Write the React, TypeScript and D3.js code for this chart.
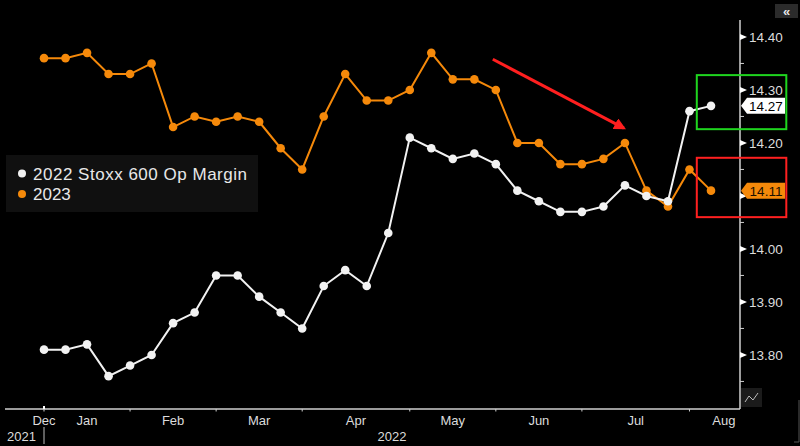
import { useEffect } from "react";
import * as d3 from "d3";

// Weekly readings, Dec 2021 → Aug 2022
const margin2022 = [
  13.81, 13.81, 13.82, 13.76, 13.78, 13.8, 13.86, 13.88, 13.95, 13.95, 13.91, 13.88, 13.85, 13.93, 13.96, 13.93,
  14.03, 14.21, 14.19, 14.17, 14.18, 14.16, 14.11, 14.09, 14.07, 14.07, 14.08, 14.12, 14.1, 14.09, 14.26, 14.27,
];
const margin2023 = [
  14.36, 14.36, 14.37, 14.33, 14.33, 14.35, 14.23, 14.25, 14.24, 14.25, 14.24, 14.19, 14.15, 14.25, 14.33, 14.28,
  14.28, 14.3, 14.37, 14.32, 14.32, 14.3, 14.2, 14.2, 14.16, 14.16, 14.17, 14.2, 14.11, 14.08, 14.15, 14.11,
];
const seriesNames = ["2022 Stoxx 600 Op Margin", "2023"];

// index of the week where each month tick sits
const monthTicks = [0, 4, 8, 12, 17, 21, 25, 30, 33.2];
const monthLabels = ["Jan", "Feb", "Mar", "Apr", "May", "Jun", "Jul", "Aug"];
const yTicks = [13.8, 13.9, 14.0, 14.1, 14.2, 14.3, 14.4];

// annotations in data units: [x0, x1, y0, y1]
const greenBox = [30.34, 34.5, 14.328, 14.226];
const redBox = [30.34, 34.5, 14.172, 14.06];
const arrow = [20.86, 14.358, 26.95, 14.228];

const W = 800;
const H = 446;
const WHITE = "#f2f2f2";
const ORANGE = "#f5890a";

export default function App() {
  useEffect(() => {
    document.body.style.margin = "0";
    document.body.style.background = "#000";
  }, []);

  const x = d3.scaleLinear().domain([0, 31]).range([44, 711]);
  const y = d3.scaleLinear().domain([13.698, 14.432]).range([409, 20]);
  const axisX = 740;
  const axisY = 409;
  const left = 5;

  const line = d3
    .line<number>()
    .x((_, i) => x(i))
    .y((d) => y(d));

  const minorTicks = d3.range(13.75, 14.43, 0.1);
  const last22 = margin2022[margin2022.length - 1];
  const last23 = margin2023[margin2023.length - 1];
  // a tick label sitting under a last-value flag is hidden, as on the terminal
  const hidden = (t: number) => [last22, last23].some((v) => Math.abs(y(v) - y(t)) < 9);

  const narrow = "'Liberation Sans Narrow', 'Arial Narrow', sans-serif";
  const sans = "'Liberation Sans', Arial, sans-serif";

  const flag = (v: number) => {
    const c = y(v);
    return `M${axisX + 1},${c} L${axisX + 7},${c - 8} L${axisX + 45},${c - 8} L${axisX + 45},${c + 8} L${axisX + 7},${c + 8} Z`;
  };

  return (
    <svg width={W} height={H} style={{ position: "absolute", left: 0, top: 0, background: "#000", display: "block" }}>
      <rect width={W} height={H} fill="#000" />
      <defs>
        <marker id="ah" viewBox="0 0 10 10" refX="8" refY="5" markerWidth="4" markerHeight="4" orient="auto">
          <path d="M0,0 L10,5 L0,10 Z" fill="#ff1f1f" />
        </marker>
      </defs>

      {/* y axis */}
      <line x1={axisX} x2={axisX} y1={20} y2={axisY} stroke="#d0d0d0" strokeWidth={1.5} />
      {minorTicks.map((t) => (
        <line key={t} x1={axisX} x2={axisX + 4} y1={y(t)} y2={y(t)} stroke="#cfcfcf" strokeWidth={1} />
      ))}
      {yTicks.map((t) => (
        <g key={t}>
          <path d={`M${axisX},${y(t) - 3} L${axisX + 7},${y(t)} L${axisX},${y(t) + 3} Z`} fill="#fff" />
          {!hidden(t) && (
            <text x={axisX + 9} y={y(t)} dy="0.36em" fill="#dcdcdc" fontSize={13.5} fontFamily={sans}>
              {t.toFixed(2)}
            </text>
          )}
        </g>
      ))}

      {/* x axis */}
      <line x1={left} x2={axisX} y1={axisY} y2={axisY} stroke="#cfcfcf" strokeWidth={1.5} />
      {monthTicks.slice(0, -1).map((t) => (
        <line key={t} x1={x(t)} x2={x(t)} y1={axisY} y2={axisY + 2.5} stroke="#cfcfcf" strokeWidth={1} />
      ))}
      <line x1={x(0)} x2={x(0)} y1={axisY - 3} y2={axisY} stroke="#fff" strokeWidth={2} />
      <text x={x(0)} y={420} dy="0.35em" textAnchor="middle" fill="#dcdcdc" fontSize={13} fontFamily={narrow}>
        Dec
      </text>
      {monthLabels.map((m, i) => (
        <text
          key={m}
          x={x((monthTicks[i] + monthTicks[i + 1]) / 2)}
          y={420}
          dy="0.35em"
          textAnchor="middle"
          fill="#dcdcdc"
          fontSize={13}
          fontFamily={narrow}
        >
          {m}
        </text>
      ))}
      <line x1={x(0)} x2={x(0)} y1={427} y2={444} stroke="#bdbdbd" strokeWidth={1} />
      <text x={7} y={436} dy="0.35em" fill="#dcdcdc" fontSize={13} fontFamily={narrow}>
        2021
      </text>
      <text x={392} y={436} dy="0.35em" textAnchor="middle" fill="#dcdcdc" fontSize={13} fontFamily={narrow}>
        2022
      </text>

      {/* series */}
      <path d={line(margin2023) ?? ""} fill="none" stroke={ORANGE} strokeWidth={2} />
      {margin2023.map((v, i) => (
        <circle key={i} cx={x(i)} cy={y(v)} r={4.3} fill={ORANGE} />
      ))}
      <path d={line(margin2022) ?? ""} fill="none" stroke={WHITE} strokeWidth={2} />
      {margin2022.map((v, i) => (
        <circle key={i} cx={x(i)} cy={y(v)} r={4.3} fill={WHITE} />
      ))}

      {/* last value flags */}
      <path d={flag(last22)} fill="#fff" />
      <text x={axisX + 26} y={y(last22)} dy="0.36em" textAnchor="middle" fill="#000" fontSize={13.5} fontFamily={sans}>
        {last22.toFixed(2)}
      </text>
      <path d={flag(last23)} fill={ORANGE} />
      <text x={axisX + 26} y={y(last23)} dy="0.36em" textAnchor="middle" fill="#1a1000" fontSize={13.5} fontFamily={sans}>
        {last23.toFixed(2)}
      </text>

      {/* annotations */}
      <rect
        x={x(greenBox[0])}
        y={y(greenBox[2])}
        width={x(greenBox[1]) - x(greenBox[0])}
        height={y(greenBox[3]) - y(greenBox[2])}
        fill="none"
        stroke="#1fd51f"
        strokeWidth={2}
      />
      <rect
        x={x(redBox[0])}
        y={y(redBox[2])}
        width={x(redBox[1]) - x(redBox[0])}
        height={y(redBox[3]) - y(redBox[2])}
        fill="none"
        stroke="#ff2020"
        strokeWidth={2}
      />
      <line
        x1={x(arrow[0])}
        y1={y(arrow[1])}
        x2={x(arrow[2])}
        y2={y(arrow[3])}
        stroke="#ff1f1f"
        strokeWidth={3}
        markerEnd="url(#ah)"
      />

      {/* legend */}
      <rect x={6} y={155} width={252} height={57} fill="#101010" />
      <circle cx={22} cy={173.5} r={4} fill={WHITE} />
      <text x={33} y={173.5} dy="0.36em" fill="#e8e8e8" fontSize={17} fontFamily={sans} textLength={214}>
        {seriesNames[0]}
      </text>
      <circle cx={22} cy={194} r={4} fill={ORANGE} />
      <text x={33} y={194} dy="0.36em" fill="#e8e8e8" fontSize={17} fontFamily={sans}>
        {seriesNames[1]}
      </text>

      {/* chrome */}
      <rect x={775} y={4} width={23} height={14} fill="#2b2b2b" />
      <text x={786.5} y={11} dy="0.36em" textAnchor="middle" fill="#e8e8e8" fontSize={13} fontWeight={700} fontFamily={sans}>
        «
      </text>
      <rect x={741} y={388} width={21} height={19} fill="#1b1b1b" />
      <path d="M745,402 L749,396 L753,400 L758,393" fill="none" stroke="#bbb" strokeWidth={1} />
      <path d="M794,442 L799,442 L799,400" fill="none" stroke="#555" strokeWidth={1} />
    </svg>
  );
}
